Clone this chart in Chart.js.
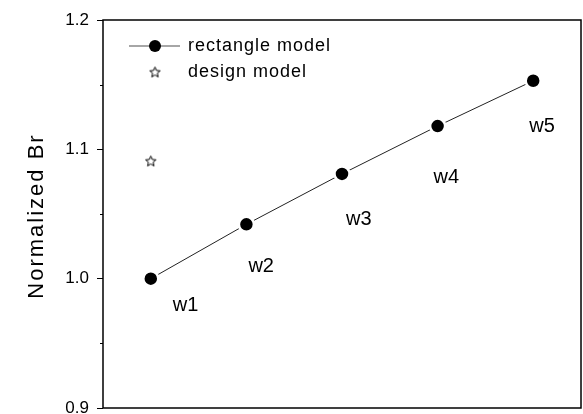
<!DOCTYPE html>
<html>
<head>
<meta charset="utf-8">
<script src="https://cdn.jsdelivr.net/npm/chart.js@4.4.1/dist/chart.umd.min.js"></script>
<style>
html,body{margin:0;padding:0;background:#fff;}
#wrap{width:583px;height:414px;position:relative;}
</style>
</head>
<body>
<div id="wrap"><canvas id="c" width="583" height="414"></canvas></div>
<script>
// ---- data ----
const categories = ["w1", "w2", "w3", "w4", "w5"];
const positions = [1, 2, 3, 4, 5];
const rectangleModel = [1.000, 1.042, 1.081, 1.118, 1.153];
const designModelX = [1];
const designModel = [1.091];
const yTicks = [0.9, 1.0, 1.1, 1.2];
const yMinorTicks = [0.95, 1.05, 1.15];
const yTitle = "Normalized Br";
const seriesNames = ["rectangle model", "design model"];

// ---- styling / layout (not data) ----
const FONT = "'Liberation Sans', Arial, sans-serif";
const labelOffsets = [[22, 27], [2, 42], [4, 46], [-4, 51], [-4, 46]];

function makeStar(size, lw) {
  const c = document.createElement('canvas');
  c.width = size; c.height = size;
  const ctx = c.getContext('2d');
  const cx = size / 2, cy = size / 2 + 0.5, R = size / 2 - 1, r = R * 0.45;
  ctx.beginPath();
  for (let i = 0; i < 10; i++) {
    const a = -Math.PI / 2 + i * Math.PI / 5;
    const rad = i % 2 === 0 ? R : r;
    const x = cx + rad * Math.cos(a), y = cy + rad * Math.sin(a);
    if (i === 0) ctx.moveTo(x, y); else ctx.lineTo(x, y);
  }
  ctx.closePath();
  ctx.lineWidth = lw;
  ctx.strokeStyle = '#000';
  ctx.stroke();
  return c;
}
const starImg = makeStar(13, 1);

const decor = {
  id: 'decor',
  afterDraw(chart) {
    const ctx = chart.ctx;
    const a = chart.chartArea;
    const xs = chart.scales.x, ys = chart.scales.y;
    ctx.save();
    // frame
    ctx.strokeStyle = '#000';
    ctx.lineWidth = 1.5;
    ctx.strokeRect(a.left, a.top, a.right - a.left, a.bottom - a.top);
    // minor ticks
    ctx.lineWidth = 1;
    yMinorTicks.forEach(v => {
      const y = Math.round(ys.getPixelForValue(v)) + 0.5;
      ctx.beginPath(); ctx.moveTo(a.left - 3, y); ctx.lineTo(a.left, y); ctx.stroke();
    });
    // point labels
    ctx.fillStyle = '#000';
    ctx.font = '20px ' + FONT;
    ctx.textBaseline = 'middle';
    ctx.textAlign = 'left';
    categories.forEach((lab, i) => {
      const px = xs.getPixelForValue(positions[i]);
      const py = ys.getPixelForValue(rectangleModel[i]);
      ctx.fillText(lab, px + labelOffsets[i][0], py + labelOffsets[i][1]);
    });
    // y axis title
    ctx.save();
    ctx.translate(37, (a.top + a.bottom) / 2 + 2);
    ctx.rotate(-Math.PI / 2);
    ctx.font = '22px ' + FONT;
    ctx.letterSpacing = '2px';
    ctx.textAlign = 'center';
    ctx.textBaseline = 'middle';
    ctx.fillText(yTitle, 0, 0);
    ctx.restore();
    // legend
    ctx.strokeStyle = '#888';
    ctx.lineWidth = 1.5;
    ctx.beginPath(); ctx.moveTo(129, 46); ctx.lineTo(180, 46); ctx.stroke();
    ctx.fillStyle = '#000';
    ctx.beginPath(); ctx.arc(155, 46, 6, 0, Math.PI * 2); ctx.fill();
    ctx.drawImage(starImg, 155 - starImg.width / 2, 72 - starImg.height / 2);
    ctx.font = '18px ' + FONT;
    ctx.letterSpacing = '1px';
    ctx.textAlign = 'left';
    ctx.textBaseline = 'middle';
    ctx.fillText(seriesNames[0], 188, 46);
    ctx.fillText(seriesNames[1], 188, 72);
    ctx.restore();
  }
};

new Chart(document.getElementById('c'), {
  type: 'scatter',
  data: {
    datasets: [
      {
        label: seriesNames[0],
        data: positions.map((x, i) => ({x: x, y: rectangleModel[i]})),
        showLine: true,
        borderColor: '#222',
        borderWidth: 1,
        backgroundColor: '#000',
        pointBorderColor: '#fff',
        pointBorderWidth: 2.5,
        pointRadius: 7.5,
        pointHoverRadius: 7.5
      },
      {
        label: seriesNames[1],
        data: designModelX.map((x, i) => ({x: x, y: designModel[i]})),
        pointStyle: starImg,
        showLine: false
      }
    ]
  },
  options: {
    responsive: false,
    animation: false,
    events: [],
    layout: {autoPadding: false, padding: {top: 20, right: 2, bottom: 6, left: 0}},
    plugins: {legend: {display: false}, tooltip: {enabled: false}},
    scales: {
      x: {type: 'linear', min: 0.5, max: 5.5, display: false},
      y: {
        type: 'linear', min: 0.9, max: 1.2,
        afterBuildTicks(scale) { scale.ticks = yTicks.map(v => ({value: v})); },
        afterFit(scale) { scale.width = 103; scale.paddingTop = 0; scale.paddingBottom = 0; },
        border: {display: false},
        grid: {drawOnChartArea: false, drawTicks: true, tickLength: 6, color: '#000', lineWidth: 1},
        ticks: {
          color: '#000',
          padding: 8,
          font: {family: FONT, size: 17},
          callback: v => v.toFixed(1)
        }
      }
    }
  },
  plugins: [decor]
});
</script>
</body>
</html>
